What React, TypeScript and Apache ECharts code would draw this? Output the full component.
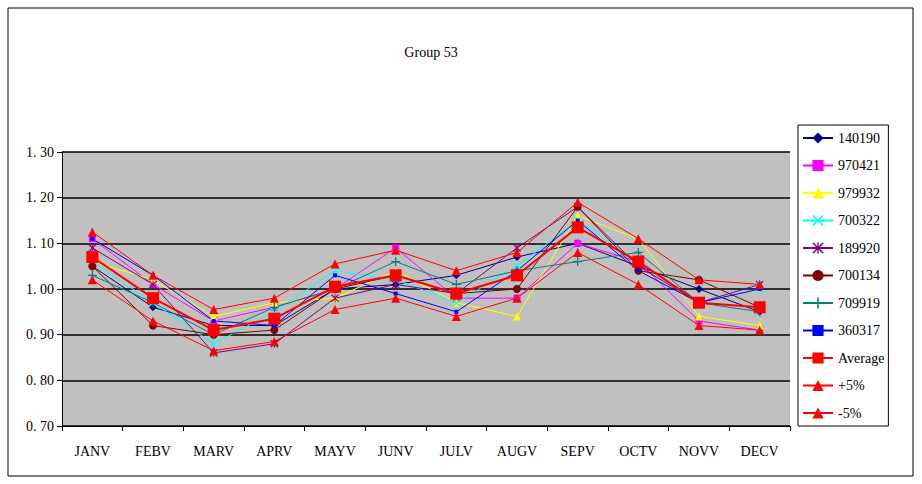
import React, { useEffect, useRef } from "react";
import * as echarts from "echarts";

const months = ["JANV", "FEBV", "MARV", "APRV", "MAYV", "JUNV", "JULV", "AUGV", "SEPV", "OCTV", "NOVV", "DECV"];

const s140190 = [1.05, 0.96, 0.92, 0.92, 1.0, 1.01, 1.03, 1.07, 1.1, 1.05, 1.0, 0.95];
const s970421 = [1.11, 1.01, 0.93, 0.96, 1.0, 1.09, 0.98, 0.98, 1.1, 1.06, 0.93, 0.91];
const s979932 = [1.06, 1.02, 0.94, 0.97, 0.98, 1.04, 0.97, 0.94, 1.16, 1.11, 0.94, 0.92];
const s700322 = [1.06, 0.97, 0.88, 0.95, 1.04, 1.02, 0.97, 1.05, 1.15, 1.06, 0.97, 1.0];
const s189920 = [1.09, 1.01, 0.86, 0.88, 0.98, 1.01, 0.99, 1.09, 1.18, 1.05, 0.97, 1.01];
const s700134 = [1.05, 0.92, 0.9, 0.91, 1.0, 1.03, 0.99, 1.0, 1.18, 1.04, 1.02, 0.96];
const s709919 = [1.03, 0.97, 0.9, 0.96, 1.0, 1.06, 1.01, 1.04, 1.06, 1.08, 0.97, 0.95];
const s360317 = [1.11, 1.03, 0.93, 0.92, 1.03, 0.99, 0.95, 1.04, 1.15, 1.04, 0.97, 1.0];
const average = [1.07, 0.98, 0.91, 0.935, 1.005, 1.03, 0.99, 1.03, 1.135, 1.06, 0.97, 0.96];
const plus5 = [1.125, 1.03, 0.955, 0.98, 1.055, 1.085, 1.04, 1.08, 1.19, 1.11, 1.02, 1.01];
const minus5 = [1.02, 0.93, 0.865, 0.885, 0.955, 0.98, 0.94, 0.98, 1.08, 1.01, 0.92, 0.91];

const yTicks: Record<string, string> = {
  "0.7": "0. 70", "0.8": "0. 80", "0.9": "0. 90", "1": "1. 00",
  "1.1": "1. 10", "1.2": "1. 20", "1.3": "1. 30",
};

const font = "Liberation Serif";

// thin cross-shaped markers
const plusPath = "path://M4.3,0H5.7V4.3H10V5.7H5.7V10H4.3V5.7H0V4.3H4.3Z";
const xPath = "path://M1,0L5,4L9,0L10,1L6,5L10,9L9,10L5,6L1,10L0,9L4,5L0,1Z";
const starPath = "path://M1,0L5,4L9,0L10,1L6,5L10,9L9,10L5,6L1,10L0,9L4,5L0,1ZM4.4,0H5.6V10H4.4Z";

const App: React.FC = () => {
  const chartRef = useRef<HTMLDivElement>(null);

  useEffect(() => {
    if (!chartRef.current) return;
    const chart = echarts.init(chartRef.current, null, { renderer: "svg" });

    const mk = (name: string, data: number[], color: string, symbol: string, size: number, width = 1) => ({
      name,
      type: "line",
      data,
      symbol,
      symbolSize: size,
      itemStyle: { color },
      lineStyle: { color, width },
    });

    chart.setOption({
      animation: false,
      backgroundColor: "#ffffff",
      textStyle: { fontFamily: font, color: "#000" },
      title: {
        text: "Group 53",
        left: 426,
        top: 40,
        textAlign: "center",
        textStyle: { fontFamily: font, fontSize: 14, fontWeight: "normal", color: "#000" },
      },
      graphic: [
        { type: "rect", shape: { x: 8, y: 8, width: 905, height: 468 }, style: { fill: "none", stroke: "#000", lineWidth: 1 } },
      ],
      legend: {
        orient: "vertical",
        left: 798,
        top: 125,
        width: 103,
        height: 307,
        padding: [6, 4, 6, 4],
        itemGap: 13.5,
        itemWidth: 30,
        itemHeight: 14,
        borderColor: "#000",
        borderWidth: 1,
        backgroundColor: "#fff",
        textStyle: { fontFamily: font, fontSize: 14, color: "#000" },
      },
      grid: { left: 62, right: 132, top: 152, bottom: 58 },
      xAxis: {
        type: "category",
        data: months,
        boundaryGap: true,
        axisLine: { lineStyle: { color: "#000" } },
        axisTick: { show: true, lineStyle: { color: "#000" } },
        axisLabel: { fontFamily: font, fontSize: 14, color: "#000", margin: 18 },
      },
      yAxis: {
        type: "value",
        min: 0.7,
        max: 1.3,
        interval: 0.1,
        axisLine: { show: true, lineStyle: { color: "#000" } },
        axisTick: { show: true, inside: false, length: 5, lineStyle: { color: "#000" } },
        splitLine: { lineStyle: { color: "#000", width: 1.5 } },
        splitArea: { show: true, areaStyle: { color: ["#c0c0c0", "#c0c0c0"] } },
        axisLabel: {
          fontFamily: font,
          fontSize: 14,
          color: "#000",
          margin: 8,
          formatter: (v: number) => yTicks[String(Math.round(v * 10) / 10)] ?? v.toFixed(2),
        },
      },
      series: [
        mk("140190", s140190, "#000080", "diamond", 8),
        mk("970421", s970421, "#ff00ff", "rect", 7),
        mk("979932", s979932, "#ffff00", "triangle", 8),
        mk("700322", s700322, "#00ffff", xPath, 8),
        mk("189920", s189920, "#800080", starPath, 8),
        mk("700134", s700134, "#800000", "circle", 8),
        mk("709919", s709919, "#008080", plusPath, 9),
        mk("360317", s360317, "#0000ff", "rect", 4),
        mk("Average", average, "#ff0000", "rect", 12, 2),
        mk("+5%", plus5, "#ff0000", "triangle", 9),
        mk("-5%", minus5, "#ff0000", "triangle", 9),
      ],
    });

    return () => chart.dispose();
  }, []);

  return (
    <div
      ref={chartRef}
      style={{ position: "fixed", left: 0, top: 0, width: 922, height: 484 }}
    />
  );
};

export default App;
